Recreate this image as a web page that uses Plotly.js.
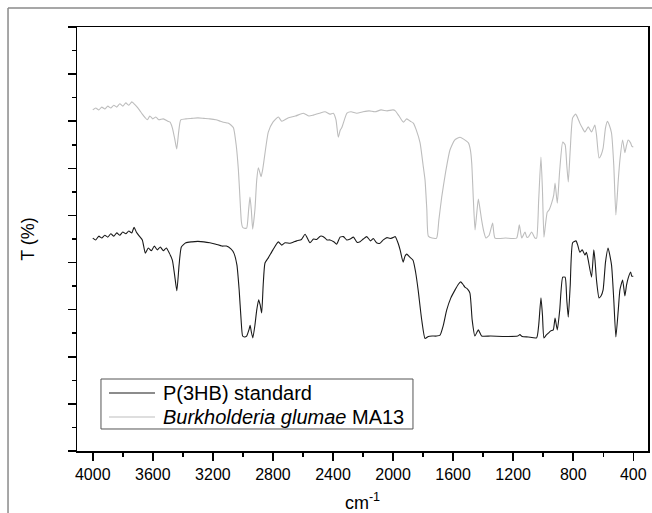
<!DOCTYPE html>
<html>
<head>
<meta charset="utf-8">
<script src="https://cdn.plot.ly/plotly-3.0.1.min.js"></script>
<style>html,body{margin:0;padding:0;background:#fff;}#chart{width:652px;height:513px;}</style>
</head>
<body>
<div id="chart"></div>
<script>
// P(3HB) standard
const wnP3HB = [4000,3980,3960,3940,3920,3900,3880,3860,3840,3820,3800,3780,3760,3740,3725,3710,3690,3670,3650,3630,3610,3590,3570,3550,3530,3510,3490,3470,3455,3440,3425,3410,3380,3340,3300,3260,3220,3180,3140,3110,3080,3060,3040,3025,3012,3002,2990,2975,2960,2952,2944,2934,2920,2908,2895,2885,2875,2865,2853,2831,2800,2764,2741,2720,2686,2660,2642,2610,2586,2553,2530,2509,2485,2464,2440,2420,2395,2376,2353,2330,2309,2285,2264,2240,2220,2198,2175,2150,2131,2110,2087,2065,2040,2020,2000,1985,1965,1953,1933,1920,1909,1890,1867,1850,1833,1809,1787,1765,1740,1710,1687,1665,1643,1615,1587,1565,1550,1535,1522,1505,1488,1473,1455,1432,1410,1350,1250,1170,1155,1140,1100,1044,1030,1015,1005,995,980,966,950,933,921,906,890,870,854,843,833,820,804,782,770,756,740,722,712,700,678,663,655,645,628,615,601,585,568,545,530,516,500,489,471,456,445,434,418,410,400];
const tP3HB = [45.2,44.8,45.6,45.2,45.8,45.4,46.1,45.6,46.3,45.8,46.5,46.1,46.7,46.3,47.5,46.5,45.6,44.8,42.0,43.1,42.5,43.5,42.7,43.3,42.5,43.1,42.0,40.5,37.4,34.0,39.5,43.3,44.2,44.4,44.5,44.4,44.2,43.9,43.5,43.5,42.9,42.0,39.5,34.2,27.8,24.4,24.2,24.4,25.7,26.7,25.3,24.0,26.7,29.9,32.1,31.0,29.3,35.2,39.9,41.0,42.7,44.4,43.7,44.2,44.1,44.4,44.6,44.9,46.0,44.2,45.0,44.9,45.6,45.5,44.8,44.8,44.4,43.9,45.4,45.5,44.8,45.0,45.4,44.3,44.4,45.0,45.5,44.6,45.1,44.2,44.1,44.8,45.3,45.1,45.3,45.5,44.0,42.7,40.1,41.4,41.8,41.2,40.5,38.0,34.2,27.8,23.9,24.3,24.4,24.4,24.6,26.7,29.9,32.5,34.2,35.4,35.9,35.4,34.8,34.4,33.5,27.8,24.4,25.7,24.4,24.4,24.3,24.4,24.7,24.3,24.2,24.0,26.7,32.5,28.9,24.0,24.6,25.0,25.5,25.7,28.2,25.7,29.9,36.9,36.9,32.1,28.4,35.2,44.2,44.6,43.7,42.2,42.7,41.6,42.2,40.5,36.9,42.7,40.5,36.3,32.5,32.9,34.2,40.1,43.1,39.5,32.1,24.2,29.9,34.2,36.3,32.9,35.2,36.7,38.0,37.1,37.1];

// Burkholderia glumae MA13
const wnBG = [4000,3980,3960,3940,3920,3900,3880,3860,3840,3820,3800,3780,3760,3740,3725,3710,3690,3670,3650,3636,3620,3600,3580,3560,3530,3500,3485,3470,3455,3441,3428,3414,3380,3340,3300,3260,3220,3180,3150,3130,3100,3080,3063,3045,3030,3019,3010,3002,2990,2975,2962,2953,2944,2935,2920,2908,2897,2888,2879,2869,2859,2845,2831,2800,2764,2741,2700,2650,2597,2560,2531,2490,2453,2420,2398,2380,2365,2352,2342,2320,2307,2280,2242,2200,2160,2120,2080,2040,2000,1985,1960,1931,1909,1885,1865,1845,1820,1800,1787,1775,1765,1740,1710,1695,1676,1650,1621,1590,1554,1530,1498,1485,1476,1465,1454,1443,1432,1420,1410,1395,1381,1360,1337,1321,1250,1177,1159,1143,1121,1110,1099,1077,1055,1044,1030,1015,1005,995,985,973,960,944,930,921,906,890,870,854,843,833,820,804,784,770,756,740,722,700,678,656,645,628,615,601,585,572,560,545,530,516,500,489,471,456,445,434,418,410,400];
const tBG = [72.4,72.8,72.4,73.0,72.6,73.2,72.8,73.4,73.0,73.7,73.2,73.9,73.4,74.1,73.7,73.2,72.4,71.5,70.7,70.3,71.1,70.5,70.9,70.3,70.5,70.0,69.8,68.6,66.4,64.1,67.7,70.3,70.5,70.6,70.7,70.6,70.5,70.3,70.0,69.8,69.6,69.2,68.6,65.0,59.6,53.3,48.6,47.5,47.3,47.3,51.2,53.9,51.2,47.1,51.2,57.5,60.1,59.2,58.2,59.6,61.8,65.0,67.7,69.8,70.9,70.0,70.7,71.1,71.7,71.1,71.3,71.7,72.0,71.5,71.7,70.3,66.6,68.1,68.6,70.7,71.7,72.0,71.7,72.0,72.2,72.0,72.4,72.2,72.4,72.2,71.1,69.8,70.5,70.0,69.6,68.1,65.4,60.7,57.5,51.2,45.6,45.2,45.2,49.0,53.9,59.2,63.9,66.0,66.6,66.2,65.4,63.9,61.1,53.3,46.9,50.3,53.5,51.2,49.0,46.5,45.2,45.8,48.4,45.2,45.2,45.2,48.0,45.2,46.5,45.4,45.4,46.5,45.2,45.2,53.3,62.4,55.4,45.4,48.0,50.7,51.2,52.6,54.3,56.9,52.6,59.6,65.6,65.0,60.7,57.1,63.9,70.7,71.5,70.7,69.6,68.6,67.7,68.8,67.7,69.2,67.1,62.2,62.8,64.3,68.6,70.0,69.2,67.5,60.7,50.1,57.5,61.8,66.0,63.3,64.9,66.0,65.4,64.7,64.5];

const names = ['P(3HB) standard', '<i>Burkholderia glumae</i> MA13'];
const colors = ['#1a1a1a', '#bdbdbd'];
const xTicks = [4000,3600,3200,2800,2400,2000,1600,1200,800,400];

const FONT = 'Liberation Sans, Arial, sans-serif';

const traces = [
  {x: wnP3HB, y: tP3HB, name: names[0], type: 'scatter', mode: 'lines',
   line: {color: colors[0], width: 1.1, shape: 'spline', smoothing: 0.5}},
  {x: wnBG, y: tBG, name: names[1], type: 'scatter', mode: 'lines',
   line: {color: colors[1], width: 1.1, shape: 'spline', smoothing: 0.5}}
];

// legend drawn as a framed box (paper coordinates)
const legBox = {x0: 0.042, x1: 0.5884, y0: 0.0519, y1: 0.1698};
const legRowsY = [0.1368, 0.0802];
const legLineX = [0.056, 0.1366];
const legTextX = 0.1471;

const shapes = [
  {type: 'line', xref: 'paper', yref: 'paper', x0: -0.1208, x1: 1.01, y0: 1.0448, y1: 1.0448,
   line: {color: '#8a8a8a', width: 1.5}},
  {type: 'line', xref: 'paper', yref: 'paper', x0: -0.1208, x1: -0.1208, y0: 1.0448, y1: -0.15,
   line: {color: '#8a8a8a', width: 1.5}},
  {type: 'rect', xref: 'paper', yref: 'paper', x0: legBox.x0, x1: legBox.x1, y0: legBox.y0, y1: legBox.y1,
   line: {color: '#555', width: 1}, fillcolor: '#fff', layer: 'above'}
];
const annotations = [];
names.forEach((n, i) => {
  shapes.push({type: 'line', xref: 'paper', yref: 'paper', x0: legLineX[0], x1: legLineX[1],
               y0: legRowsY[i], y1: legRowsY[i], line: {color: colors[i], width: 1.1}, layer: 'above'});
  annotations.push({xref: 'paper', yref: 'paper', x: legTextX, y: legRowsY[i], xanchor: 'left', yanchor: 'middle',
                    text: n, showarrow: false, font: {family: FONT, size: 20, color: '#000'}});
});

const layout = {
  width: 652, height: 513,
  margin: {l: 77, r: 4, t: 27, b: 62},
  paper_bgcolor: '#fff', plot_bgcolor: '#fff',
  font: {family: FONT, color: '#000'},
  showlegend: false,
  xaxis: {
    range: [4105, 302], tickvals: xTicks, ticktext: xTicks.map(String),
    ticks: 'outside', ticklen: 8, tickwidth: 1.5, tickcolor: '#000',
    minor: {dtick: 200, tick0: 0, ticks: 'outside', ticklen: 4, tickwidth: 1.5, tickcolor: '#000'},
    showline: true, linecolor: '#000', linewidth: 1.5, mirror: true,
    showgrid: false, zeroline: false,
    tickfont: {family: FONT, size: 16, color: '#000'},
    title: {text: 'cm<sup>-1</sup>', font: {family: FONT, size: 18, color: '#000'}, standoff: 18}
  },
  yaxis: {
    range: [0, 90], dtick: 10, tick0: 0, showticklabels: false,
    ticks: 'outside', ticklen: 8, tickwidth: 1.5, tickcolor: '#000',
    minor: {dtick: 5, tick0: 0, ticks: 'outside', ticklen: 4, tickwidth: 1.5, tickcolor: '#000'},
    showline: true, linecolor: '#000', linewidth: 1.5, mirror: true,
    showgrid: false, zeroline: false,
    title: {text: 'T (%)', font: {family: FONT, size: 18, color: '#000'}, standoff: 28}
  },
  shapes: shapes,
  annotations: annotations
};

Plotly.newPlot('chart', traces, layout, {displayModeBar: false, staticPlot: true});
</script>
</body>
</html>
